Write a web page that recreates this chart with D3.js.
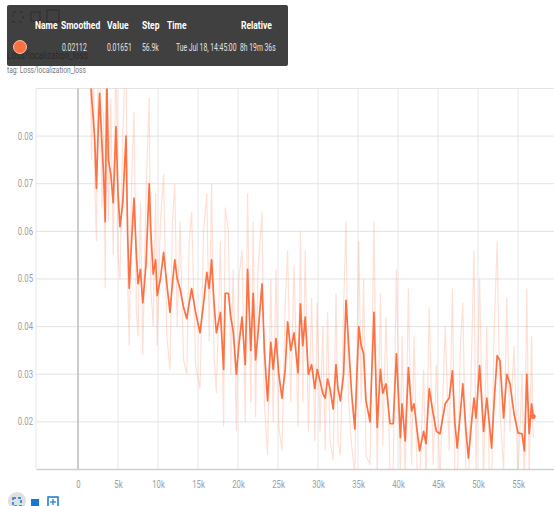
<!DOCTYPE html>
<html>
<head>
<meta charset="utf-8">
<script src="https://cdn.jsdelivr.net/npm/d3@7"></script>
<style>
  body { margin: 0; background: #fff; }
  svg { display: block; font-family: Roboto, "Noto Sans", sans-serif; }
</style>
</head>
<body>
<svg id="chart" width="554" height="506"></svg>
<script>
// steps in thousands
var steps = [1.4,1.7,1.9,2.1,2.3,2.5,2.7,3.0,3.2,3.4,3.6,3.8,4.1,4.4,4.75,5.0,5.25,5.6,6.0,6.2,6.4,6.7,7.0,7.3,7.5,7.8,8.1,8.5,8.9,9.1,9.4,9.7,9.9,10.3,10.7,11.1,11.5,11.8,12.1,12.4,12.75,13.2,13.6,13.9,14.2,14.7,15.25,15.7,16.1,16.4,16.7,17.0,17.3,17.8,18.2,18.4,18.8,19.1,19.4,19.8,20.1,20.5,20.9,21.2,21.6,21.9,22.2,22.5,23.0,23.3,23.7,24.1,24.4,24.75,25.1,25.5,25.9,26.2,26.6,27.0,27.5,27.8,28.1,28.4,28.8,29.2,29.6,29.9,30.25,30.6,30.9,31.2,31.5,31.9,32.25,32.5,32.8,33.2,33.5,33.8,34.2,34.6,35.1,35.4,35.7,36.0,36.5,37.0,37.4,37.8,38.1,38.5,39.0,39.4,39.8,40.3,40.5,40.9,41.3,41.7,42.0,42.4,42.7,43.2,43.5,43.9,44.4,44.8,45.25,45.9,46.4,46.8,47.1,47.4,47.8,48.1,48.5,48.8,49.2,49.5,49.75,50.2,50.7,51.1,51.4,51.7,52.0,52.4,52.75,53.2,53.6,54.0,54.5,55.0,55.5,55.8,56.1,56.4,56.7,56.9];

var smoothed = [0.098,0.088,0.084,0.079,0.069,0.080,0.089,0.078,0.072,0.062,0.092,0.075,0.072,0.066,0.082,0.068,0.061,0.066,0.080,0.060,0.048,0.058,0.067,0.055,0.049,0.052,0.045,0.053,0.070,0.060,0.051,0.054,0.0465,0.050,0.0556,0.049,0.043,0.049,0.054,0.050,0.048,0.044,0.0417,0.045,0.048,0.043,0.0387,0.045,0.0514,0.048,0.054,0.045,0.0387,0.043,0.031,0.047,0.047,0.042,0.039,0.030,0.036,0.042,0.032,0.052,0.035,0.047,0.033,0.0385,0.049,0.035,0.0244,0.0367,0.031,0.0375,0.030,0.025,0.031,0.041,0.035,0.0387,0.0303,0.0448,0.036,0.042,0.030,0.032,0.027,0.031,0.0286,0.026,0.025,0.029,0.027,0.0227,0.032,0.027,0.0244,0.030,0.0455,0.037,0.026,0.0185,0.040,0.036,0.0343,0.0244,0.020,0.043,0.0188,0.031,0.026,0.028,0.0196,0.0196,0.0343,0.0167,0.0238,0.016,0.0314,0.0223,0.0238,0.018,0.0139,0.018,0.0154,0.027,0.0217,0.018,0.0175,0.0238,0.025,0.0307,0.020,0.0145,0.022,0.028,0.018,0.0124,0.020,0.025,0.0208,0.0318,0.018,0.025,0.020,0.0145,0.0238,0.0339,0.0328,0.0208,0.030,0.028,0.0217,0.0177,0.0175,0.0139,0.030,0.0175,0.0238,0.02112];

var raw = [0.105,0.075,0.098,0.070,0.058,0.095,0.100,0.065,0.085,0.048,0.105,0.062,0.088,0.055,0.100,0.055,0.050,0.080,0.100,0.050,0.036,0.070,0.085,0.043,0.038,0.066,0.034,0.068,0.088,0.048,0.040,0.068,0.036,0.062,0.072,0.038,0.031,0.062,0.070,0.040,0.062,0.033,0.030,0.058,0.064,0.032,0.027,0.060,0.068,0.037,0.070,0.034,0.026,0.058,0.019,0.065,0.060,0.030,0.052,0.018,0.050,0.056,0.020,0.068,0.024,0.062,0.021,0.052,0.064,0.024,0.013,0.050,0.020,0.052,0.019,0.014,0.045,0.056,0.024,0.053,0.019,0.060,0.024,0.056,0.018,0.046,0.016,0.045,0.018,0.040,0.014,0.043,0.016,0.012,0.047,0.016,0.013,0.044,0.062,0.025,0.015,0.009,0.058,0.024,0.050,0.013,0.011,0.062,0.009,0.047,0.015,0.042,0.010,0.010,0.052,0.008,0.038,0.007,0.048,0.011,0.038,0.009,0.006,0.031,0.007,0.044,0.011,0.032,0.008,0.040,0.014,0.048,0.010,0.006,0.036,0.045,0.008,0.005,0.034,0.056,0.010,0.050,0.008,0.040,0.010,0.006,0.038,0.058,0.022,0.010,0.046,0.018,0.036,0.008,0.030,0.006,0.048,0.008,0.038,0.01651];

var xTicks = [0,5,10,15,20,25,30,35,40,45,50,55];
var yTicks = [0.02,0.03,0.04,0.05,0.06,0.07,0.08];
var yGrid = [0.02,0.03,0.04,0.05,0.06,0.07,0.08,0.09];

var headers = ["Name","Smoothed","Value","Step","Time","Relative"];
var rowValues = ["","0.02112","0.01651","56.9k","Tue Jul 18, 14:45:00","8h 19m 36s"];
var colX = [35,61,107,142,167,241];
var rowX = [35,62,107,142,176,240];

var orange = "#ff7043";
var squeeze = 0.74;

var svg = d3.select("#chart");
var plotLeft = 36, plotRight = 554, plotTop = 88.5, plotBottom = 469;

var x = d3.scaleLinear().domain([-5.25, 59.5]).range([plotLeft, plotRight]);
var y = d3.scaleLinear().domain([0.0101, 0.09]).range([plotBottom, plotTop]);

function sText(sel, tx, ty) {
    return sel.append("text")
        .attr("transform", "translate(" + tx + "," + ty + ") scale(" + squeeze + ",1)");
}

// title (sits under the tooltip)
sText(svg, 7, 59).text("Loss/localization_loss")
    .attr("font-size", 11).attr("fill", "#666");
sText(svg, 7, 73).text("tag: Loss/localization_loss")
    .attr("font-size", 9).attr("fill", "#777");

// grid
svg.append("g").selectAll("line").data(yGrid).enter().append("line")
    .attr("x1", plotLeft).attr("x2", plotRight)
    .attr("y1", d => y(d)).attr("y2", d => y(d))
    .attr("stroke", "#e3e3e3").attr("stroke-width", 1);

svg.append("g").selectAll("line").data(xTicks).enter().append("line")
    .attr("x1", d => x(d)).attr("x2", d => x(d))
    .attr("y1", plotTop).attr("y2", plotBottom)
    .attr("stroke", d => d === 0 ? "#bdbdbd" : "#e6e6e6")
    .attr("stroke-width", d => d === 0 ? 1.5 : 1);

svg.append("line")
    .attr("x1", plotLeft).attr("x2", plotLeft).attr("y1", plotTop).attr("y2", plotBottom)
    .attr("stroke", "#e6e6e6");

// x axis
var xAxis = d3.axisBottom(x).tickValues(xTicks).tickSize(0)
    .tickFormat(d => d === 0 ? "0" : d + "k");
var gx = svg.append("g").attr("transform", "translate(0," + plotBottom + ")").call(xAxis);
gx.select(".domain").attr("stroke", "#d0d0d0").attr("stroke-width", 1.5);
gx.selectAll(".tick text")
    .attr("font-size", 10.5).attr("fill", "#9e9e9e")
    .attr("font-family", "Roboto")
    .attr("y", 12)
    .attr("transform", "scale(" + squeeze + ",1)");

// y axis labels
svg.append("g").selectAll("text").data(yTicks).enter().append("text")
    .attr("transform", d => "translate(33," + (y(d) + 3.5) + ") scale(" + squeeze + ",1)")
    .attr("text-anchor", "end")
    .attr("font-size", 10.5).attr("fill", "#9e9e9e")
    .text(d => d.toFixed(2));

// lines
svg.append("clipPath").attr("id", "plot-clip").append("rect")
    .attr("x", plotLeft).attr("y", plotTop)
    .attr("width", plotRight - plotLeft).attr("height", plotBottom - plotTop);

var plot = svg.append("g").attr("clip-path", "url(#plot-clip)");

var line = d3.line().x((d, i) => x(steps[i])).y(d => y(d));
plot.append("path").datum(raw)
    .attr("d", line)
    .attr("fill", "none")
    .attr("stroke", orange).attr("stroke-opacity", 0.22).attr("stroke-width", 1.2);

plot.append("path").datum(smoothed)
    .attr("d", line)
    .attr("fill", "none")
    .attr("stroke", orange).attr("stroke-width", 1.7)
    .attr("stroke-linejoin", "round");

plot.append("circle")
    .attr("cx", x(steps[steps.length - 1]))
    .attr("cy", y(smoothed[smoothed.length - 1]))
    .attr("r", 2.5).attr("fill", orange);

// top-left icons (behind tooltip)
var icons = svg.append("g").attr("stroke", "#9e9e9e").attr("fill", "none").attr("stroke-width", 1.5);
icons.append("rect").attr("x", 13).attr("y", 12).attr("width", 10).attr("height", 10).attr("stroke-dasharray", "3,4");
icons.append("rect").attr("x", 31).attr("y", 12).attr("width", 9).attr("height", 9);
icons.append("rect").attr("x", 47).attr("y", 10).attr("width", 12).attr("height", 12);

// tooltip
var tip = svg.append("g");
tip.append("rect")
    .attr("x", 7).attr("y", 5).attr("width", 281).attr("height", 61).attr("rx", 2)
    .attr("fill", "#212121").attr("fill-opacity", 0.86);

tip.selectAll("text.h").data(headers).enter().append("text")
    .attr("class", "h")
    .attr("transform", (d, i) => "translate(" + colX[i] + ",29) scale(" + squeeze + ",1)")
    .attr("font-size", 11.5).attr("font-weight", "bold").attr("fill", "#fff")
    .text(d => d);

tip.selectAll("text.v").data(rowValues).enter().append("text")
    .attr("class", "v")
    .attr("transform", (d, i) => "translate(" + rowX[i] + ",51) scale(0.68,1)")
    .attr("font-size", 10).attr("fill", "#e0e0e0")
    .text(d => d);

tip.append("circle").attr("cx", 20).attr("cy", 47).attr("r", 6.5)
    .attr("fill", orange).attr("stroke", "#f5c0ad").attr("stroke-width", 1);

// bottom icons
svg.append("circle").attr("cx", 17).attr("cy", 501).attr("r", 9).attr("fill", "#e0e0e0");
svg.append("rect").attr("x", 13).attr("y", 498).attr("width", 8).attr("height", 8)
    .attr("fill", "none").attr("stroke", "#1976d2").attr("stroke-width", 1.5).attr("stroke-dasharray", "3,2");
svg.append("rect").attr("x", 31).attr("y", 499).attr("width", 8).attr("height", 7).attr("fill", "#1976d2");
svg.append("rect").attr("x", 48).attr("y", 497).attr("width", 10).attr("height", 10)
    .attr("fill", "none").attr("stroke", "#1976d2").attr("stroke-width", 1.5);
svg.append("line").attr("x1", 53).attr("x2", 53).attr("y1", 499).attr("y2", 505)
    .attr("stroke", "#1976d2").attr("stroke-width", 1.2);
svg.append("line").attr("x1", 50).attr("x2", 56).attr("y1", 502).attr("y2", 502)
    .attr("stroke", "#1976d2").attr("stroke-width", 1.2);
</script>
</body>
</html>
